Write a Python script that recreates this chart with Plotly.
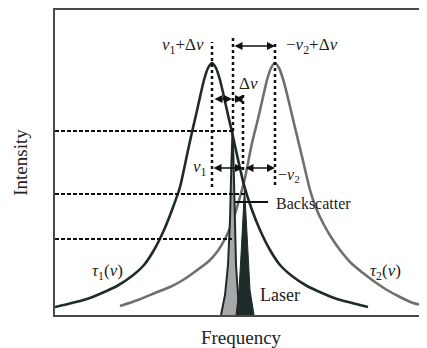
import plotly.graph_objects as go

# Values (frequency and intensity in arbitrary units)
tau1_freq = [0, 17, 32, 47, 62, 77, 89, 99, 109, 117, 125, 132, 137, 141, 145, 149, 153, 157,
             161, 165, 169, 173, 177, 182, 189, 197, 205, 215, 225, 237, 252, 267, 282, 297, 313]
tau1_int = [8, 12, 16, 22, 29, 39, 50, 65, 85, 105, 128, 160, 183, 200, 218, 235, 247, 252,
            247, 235, 218, 200, 183, 160, 130, 105, 85, 65, 50, 39, 29, 22, 16, 12, 8]

tau2_freq = [65, 83, 100, 115, 128, 145, 154, 162, 170, 177, 185, 190, 197, 203, 208, 212, 216, 220,
             224, 228, 232, 237, 243, 249, 255, 261, 268, 276, 285, 296, 308, 320, 332, 345, 358, 372]
tau2_int = [9, 15, 22, 28, 35, 47, 54, 63, 76, 92, 118, 137, 172, 196, 218, 235, 247, 252,
            247, 236, 221, 200, 175, 150, 125, 107, 92, 78, 65, 52, 42, 33, 25, 18, 12, 9]

gray_freq = [166, 170, 173, 175, 176.5, 177.5, 178.5, 179.5, 181, 183, 185]
gray_int = [0, 20, 50, 95, 155, 184, 155, 95, 50, 20, 0]

laser_freq = [181, 184, 186, 188, 189.5, 191, 193, 195, 199]
laser_int = [0, 25, 60, 100, 127, 100, 60, 25, 0]

I_levels = {"I1": 184, "IL": 121, "I2": 76}

DARK = "#1f2a2a"
GRAY = "#6f6f6f"
FONT = "Liberation Serif"

fig = go.Figure()
fig.add_trace(go.Scatter(x=tau2_freq, y=tau2_int, mode="lines",
                         line=dict(color=GRAY, width=2.6, shape="spline", smoothing=0.6),
                         hoverinfo="skip"))
fig.add_trace(go.Scatter(x=tau1_freq, y=tau1_int, mode="lines",
                         line=dict(color=DARK, width=2.6, shape="spline", smoothing=0.6),
                         hoverinfo="skip"))
fig.add_trace(go.Scatter(x=gray_freq, y=gray_int, mode="lines", fill="toself",
                         fillcolor="#a8a8a8", line=dict(color=DARK, width=2),
                         hoverinfo="skip"))
fig.add_trace(go.Scatter(x=laser_freq, y=laser_int, mode="lines", fill="toself",
                         fillcolor=DARK, line=dict(color=DARK, width=1),
                         hoverinfo="skip"))

shapes = []
# dashed intensity levels
for lvl, x1 in [("I1", 178), ("IL", 190), ("I2", 177)]:
    shapes.append(dict(type="line", xref="x", yref="y", x0=0, x1=x1,
                       y0=I_levels[lvl], y1=I_levels[lvl],
                       line=dict(color="#111", width=2, dash="4px,2px")))
# dotted vertical guides
for xv, y0, y1 in [(157, 128, 273), (178, 184, 277), (188, 145, 220), (220, 130, 272)]:
    shapes.append(dict(type="line", xref="x", yref="y", x0=xv, x1=xv, y0=y0, y1=y1,
                       line=dict(color="#111", width=2.5, dash="dot")))
# backscatter leader
shapes.append(dict(type="line", xref="x", yref="y", x0=180, x1=213, y0=113, y1=113,
                   line=dict(color="#111", width=2)))

annotations = []
def arrow(xa, xb, y):
    annotations.append(dict(x=xb, y=y, ax=xa, ay=y, xref="x", yref="y", axref="x", ayref="y",
                            text="", showarrow=True, arrowhead=2, arrowsize=1, arrowwidth=1.6,
                            arrowside="end+start", arrowcolor="#111"))
arrow(178, 220, 269)
arrow(158, 177, 216)
arrow(178, 188, 216)
arrow(157, 188, 147)
arrow(189, 220, 147)

def label(x, y, txt, size=17, xanchor="center"):
    annotations.append(dict(x=x, y=y, xref="x", yref="y", text=txt, showarrow=False,
                            xanchor=xanchor, yanchor="middle",
                            font=dict(family=FONT, size=size, color="#222")))

label(128, 269, "<i>ν</i><sub>1</sub>+Δ<i>ν</i>")
label(257, 269, "−<i>ν</i><sub>2</sub>+Δ<i>ν</i>")
label(193, 232, "Δ<i>ν</i>")
label(154, 147, "<i>ν</i><sub>1</sub>", xanchor="right")
label(234, 140, "−<i>ν</i><sub>2</sub>", size=16)
label(258, 112, "Backscatter", size=16)
label(225, 20, "Laser", size=18)
label(52, 43, "<i>τ</i><sub>1</sub>(<i>ν</i>)")
label(330, 43, "<i>τ</i><sub>2</sub>(<i>ν</i>)")
for lvl, txt in [("I1", "<i>I</i><sub>1</sub>"), ("IL", "<i>I</i><sub>L</sub>"), ("I2", "<i>I</i><sub>2</sub>")]:
    annotations.append(dict(x=-4, y=I_levels[lvl], xref="x", yref="y", text=txt, showarrow=False,
                            xanchor="right", yanchor="middle",
                            font=dict(family=FONT, size=17, color="#222")))

# page body has an 8px margin, so the figure is sized/margined to land the plot box correctly
fig.update_layout(
    width=419, height=340,
    margin=dict(l=47, r=0, t=2, b=33, autoexpand=False),
    paper_bgcolor="white", plot_bgcolor="white",
    showlegend=False,
    shapes=shapes, annotations=annotations,
    xaxis=dict(range=[0, 372], showgrid=False, zeroline=False, showticklabels=False, ticks="",
               showline=True, mirror=True, linecolor="#4a4a4a", linewidth=2,
               title=dict(text="Frequency", font=dict(family=FONT, size=19, color="#222"), standoff=16)),
    yaxis=dict(range=[0, 305], showgrid=False, zeroline=False, showticklabels=False, ticks="",
               showline=True, linecolor="#4a4a4a", linewidth=2,
               title=dict(text="Intensity", font=dict(family=FONT, size=19, color="#222"), standoff=20)),
)

fig.write_html("out.html")
